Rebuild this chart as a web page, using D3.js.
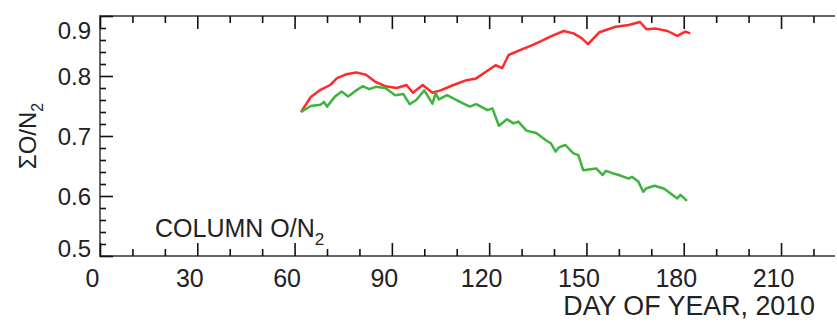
<!DOCTYPE html>
<html>
<head>
<meta charset="utf-8">
<title>Column O/N2</title>
<script src="https://d3js.org/d3.v7.min.js"></script>
<style>
  body { margin: 0; background: #fff; }
  svg { display: block; font-family: "Liberation Sans", Arial, sans-serif; }
  .axis text { fill: #222; }
  .axis line { stroke: #111; stroke-width: 1.6; }
</style>
</head>
<body>
<div id="chart"></div>
<script>
// values
const redDays = [62, 65, 68, 71, 73, 76, 79, 82, 85, 88, 91.5, 94.5, 96.5, 99.5, 102.5, 105, 109, 113, 116, 119, 122, 124, 126, 129.5, 133.5, 136, 139, 143, 146, 148.5, 150.5, 154, 159, 163, 166.5, 168.5, 171.5, 175, 178, 180.5, 182];
const redVals = [0.740, 0.765, 0.777, 0.785, 0.796, 0.803, 0.806, 0.802, 0.790, 0.783, 0.780, 0.785, 0.772, 0.785, 0.772, 0.776, 0.785, 0.793, 0.796, 0.807, 0.818, 0.813, 0.835, 0.843, 0.852, 0.858, 0.866, 0.875, 0.871, 0.863, 0.853, 0.873, 0.882, 0.885, 0.890, 0.878, 0.879, 0.875, 0.867, 0.874, 0.871];

const greenDays = [62, 65, 68, 69, 70, 72.5, 74.5, 76.5, 79, 81, 83, 85, 88, 91, 93.5, 95.5, 97.5, 100, 102.5, 103.5, 104.5, 107, 111, 114, 116, 119.5, 121, 123, 125.5, 127.5, 129, 131.5, 134.5, 137.5, 139, 140.5, 141.5, 143.5, 146, 147.5, 149, 153, 155, 156, 158, 160, 163, 164, 166, 167.5, 168.5, 171, 174, 178, 179, 181];
const greenVals = [0.740, 0.750, 0.752, 0.757, 0.749, 0.766, 0.774, 0.766, 0.776, 0.783, 0.778, 0.782, 0.780, 0.768, 0.770, 0.753, 0.760, 0.776, 0.754, 0.771, 0.761, 0.768, 0.757, 0.749, 0.753, 0.743, 0.746, 0.717, 0.728, 0.721, 0.724, 0.709, 0.705, 0.693, 0.688, 0.674, 0.681, 0.685, 0.671, 0.668, 0.643, 0.646, 0.635, 0.642, 0.638, 0.635, 0.629, 0.632, 0.624, 0.607, 0.613, 0.617, 0.612, 0.596, 0.602, 0.592];

const xMajor = [0, 30, 60, 90, 120, 150, 180, 210];
const xMinor = d3.range(0, 221, 10);
const yMajor = [0.5, 0.6, 0.7, 0.8, 0.9];
const yMinor = d3.range(0.5, 0.9001, 0.02);

const width = 837, height = 325;
const mLeft = 100, mTop = 16, mBottom = 256, mRight = 835;

const svg = d3.select("#chart").append("svg")
    .attr("width", width)
    .attr("height", height);

const x = d3.scaleLinear().domain([0, 210]).range([mLeft, mLeft + 210 * 3.243]);
const y = d3.scaleLinear().domain([0.5, 0.9]).range([mBottom, mTop]);

// frame (left, top, bottom - no right edge)
svg.append("path")
    .attr("d", `M${mRight},${mTop}H${mLeft}V${mBottom}H${mRight}`)
    .attr("fill", "none")
    .attr("stroke", "#666")
    .attr("stroke-width", 2);

// bottom ticks + labels
const xb = svg.append("g").attr("class", "axis")
    .attr("transform", `translate(0,${mBottom})`)
    .call(d3.axisBottom(x).tickValues(xMajor).tickSize(-13).tickFormat(d3.format("d")));
xb.selectAll("text").attr("y", 31).attr("dy", 0).attr("dx", -8).style("font-size", "25px");
svg.append("g").attr("class", "axis")
    .attr("transform", `translate(0,${mBottom})`)
    .call(d3.axisBottom(x).tickValues(xMinor.filter(d => d % 30)).tickSize(-7).tickFormat(""));

// top ticks
svg.append("g").attr("class", "axis")
    .attr("transform", `translate(0,${mTop})`)
    .call(d3.axisTop(x).tickValues(xMajor).tickSize(-13).tickFormat(""));
svg.append("g").attr("class", "axis")
    .attr("transform", `translate(0,${mTop})`)
    .call(d3.axisTop(x).tickValues(xMinor.filter(d => d % 30)).tickSize(-7).tickFormat(""));

// left ticks + labels
const yl = svg.append("g").attr("class", "axis")
    .attr("transform", `translate(${mLeft},0)`)
    .call(d3.axisLeft(y).tickValues(yMajor).tickSize(-13).tickFormat(d3.format(".1f")));
yl.selectAll("text").attr("x", -9).style("font-size", "24px")
    .attr("dy", d => d === 0.9 ? "0.92em" : d === 0.5 ? "0" : "0.35em");
svg.append("g").attr("class", "axis")
    .attr("transform", `translate(${mLeft},0)`)
    .call(d3.axisLeft(y).tickValues(yMinor.filter(d => Math.abs(d * 10 - Math.round(d * 10)) > 0.01)).tickSize(-6).tickFormat(""));

svg.selectAll(".axis .domain").remove();

// lines
const line = d3.line().x(d => x(d[0])).y(d => y(d[1]));

svg.append("path")
    .datum(redDays.map((d, i) => [d, redVals[i]]))
    .attr("d", line)
    .attr("fill", "none")
    .attr("stroke", "#ff2a2a")
    .attr("stroke-width", 2.5)
    .attr("stroke-linejoin", "round");

svg.append("path")
    .datum(greenDays.map((d, i) => [d, greenVals[i]]))
    .attr("d", line)
    .attr("fill", "none")
    .attr("stroke", "#3db43d")
    .attr("stroke-width", 2.5)
    .attr("stroke-linejoin", "round");

// texts
svg.append("text")
    .attr("x", 815).attr("y", 315)
    .attr("text-anchor", "end")
    .style("font-size", "26.8px")
    .attr("fill", "#222")
    .text("DAY OF YEAR, 2010");

const lab = svg.append("text")
    .attr("x", 155).attr("y", 237)
    .style("font-size", "25px")
    .attr("fill", "#222");
lab.append("tspan").text("COLUMN O/N");
lab.append("tspan").attr("dy", 8).style("font-size", "17px").text("2");

const yt = svg.append("text")
    .attr("transform", "translate(36,136) rotate(-90)")
    .attr("text-anchor", "middle")
    .style("font-size", "24px")
    .attr("fill", "#222");
yt.append("tspan").text("ΣO/N");
yt.append("tspan").attr("dy", 7).style("font-size", "16px").text("2");
</script>
</body>
</html>
